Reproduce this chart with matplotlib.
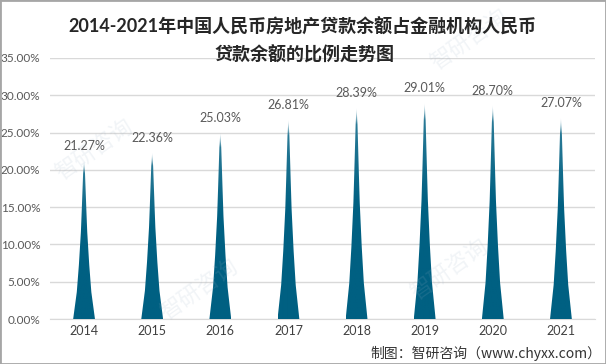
import numpy as np
import matplotlib
matplotlib.use("Agg")
import matplotlib.pyplot as plt
from matplotlib.path import Path
from matplotlib.patches import PathPatch, Rectangle
from matplotlib.ticker import FuncFormatter, MultipleLocator

years = ["2014", "2015", "2016", "2017", "2018", "2019", "2020", "2021"]
values = [21.27, 22.36, 25.03, 26.81, 28.39, 29.01, 28.70, 27.07]
title_lines = ["2014-2021年中国人民币房地产贷款余额占金融机构人民币", "贷款余额的比例走势图"]
source_text = "制图：智研咨询（www.chyxx.com）"

plt.rcParams['font.family'] = ['Lato', 'Noto Sans CJK SC', 'DejaVu Sans']

W, H = 606, 364
fig = plt.figure(figsize=(W / 100, H / 100), dpi=100)
fig.patch.set_facecolor('white')

ax = fig.add_axes([50 / W, (H - 319) / H, (595 - 50) / W, (319 - 58) / H])
ax.set_xlim(-0.5, len(years) - 0.5)
ax.set_ylim(0, 35)
ax.yaxis.set_major_locator(MultipleLocator(5))
ax.yaxis.set_major_formatter(FuncFormatter(lambda v, p: f"{v:.2f}%"))
ax.set_xticks(range(len(years)))
ax.set_xticklabels(years)
ax.grid(axis='y', color='#d9d9d9', lw=1)
ax.set_axisbelow(True)
for s in ['top', 'right', 'left']:
    ax.spines[s].set_visible(False)
ax.spines['bottom'].set_color('#d9d9d9')
ax.tick_params(axis='both', length=0)
ax.tick_params(axis='y', labelsize=8.5, labelcolor='#595959', pad=7)
ax.tick_params(axis='x', labelsize=9, labelcolor='#404040', pad=4)

# spike shape profile (relative width vs relative height)
prof_t = [0, 0.17, 0.34, 0.55, 0.69, 0.92, 1.0]
prof_w = [1, 0.667, 0.476, 0.29, 0.21, 0.085, 0.0]

base_color = np.array([0, 96, 130]) / 255.0
half_w = 0.16
for i, v in enumerate(values):
    ys = np.linspace(0, 1, 120)
    hw = half_w * np.interp(ys, prof_t, prof_w)
    verts = list(zip(i + hw, ys * v)) + list(zip((i - hw)[::-1], (ys * v)[::-1]))
    path = Path(verts + [verts[0]], closed=True)
    patch = PathPatch(path, facecolor='none', edgecolor='none')
    ax.add_patch(patch)
    n = 200
    t = np.linspace(0, 1, n)[:, None]
    alpha = np.clip((1 - t) / 0.08, 0, 1)
    light = np.clip((t - 0.55) / 0.45, 0, 1) * 0.2
    rgba = np.zeros((n, 2, 4))
    for c in range(3):
        rgba[:, :, c] = base_color[c] + (1 - base_color[c]) * light
    rgba[:, :, 3] = alpha
    im = ax.imshow(rgba, origin='lower', extent=[i - half_w, i + half_w, 0, v],
                   aspect='auto', interpolation='bilinear', zorder=3)
    im.set_clip_path(patch)
    ax.annotate(f"{v:.2f}%", (i, v), xytext=(0, 6), textcoords='offset points',
                ha='center', va='bottom', fontsize=9, color='#595959')

ax.set_xlim(-0.5, len(years) - 0.5)
ax.set_ylim(0, 35)

# faint watermarks
wm = [(470, 40), (95, 150), (200, 290), (450, 270)]
for (x, y) in wm:
    fig.text(x / W, 1 - y / H, "智研咨询", rotation=35, fontsize=16,
             color='#9fb4c8', alpha=0.14, ha='center', va='center',
             family=['Noto Sans CJK SC', 'DejaVu Sans'], zorder=0)

# title
fig.text(302 / W, 1 - 27 / H, title_lines[0], ha='center', va='center', fontsize=13,
         fontweight='bold', color='#262626')
fig.text(304 / W, 1 - 54 / H, title_lines[1], ha='center', va='center', fontsize=13,
         fontweight='bold', color='#262626')

fig.text(601 / W, 1 - 353 / H, source_text, ha='right', va='center', fontsize=10,
         color='#333333', family=['Noto Sans CJK SC', 'DejaVu Sans'])

fig.patches.append(Rectangle((0, 0), 1, 1, transform=fig.transFigure, fill=False,
                             edgecolor='#a6a6a6', lw=2))

fig.savefig("out.png", dpi=100)
